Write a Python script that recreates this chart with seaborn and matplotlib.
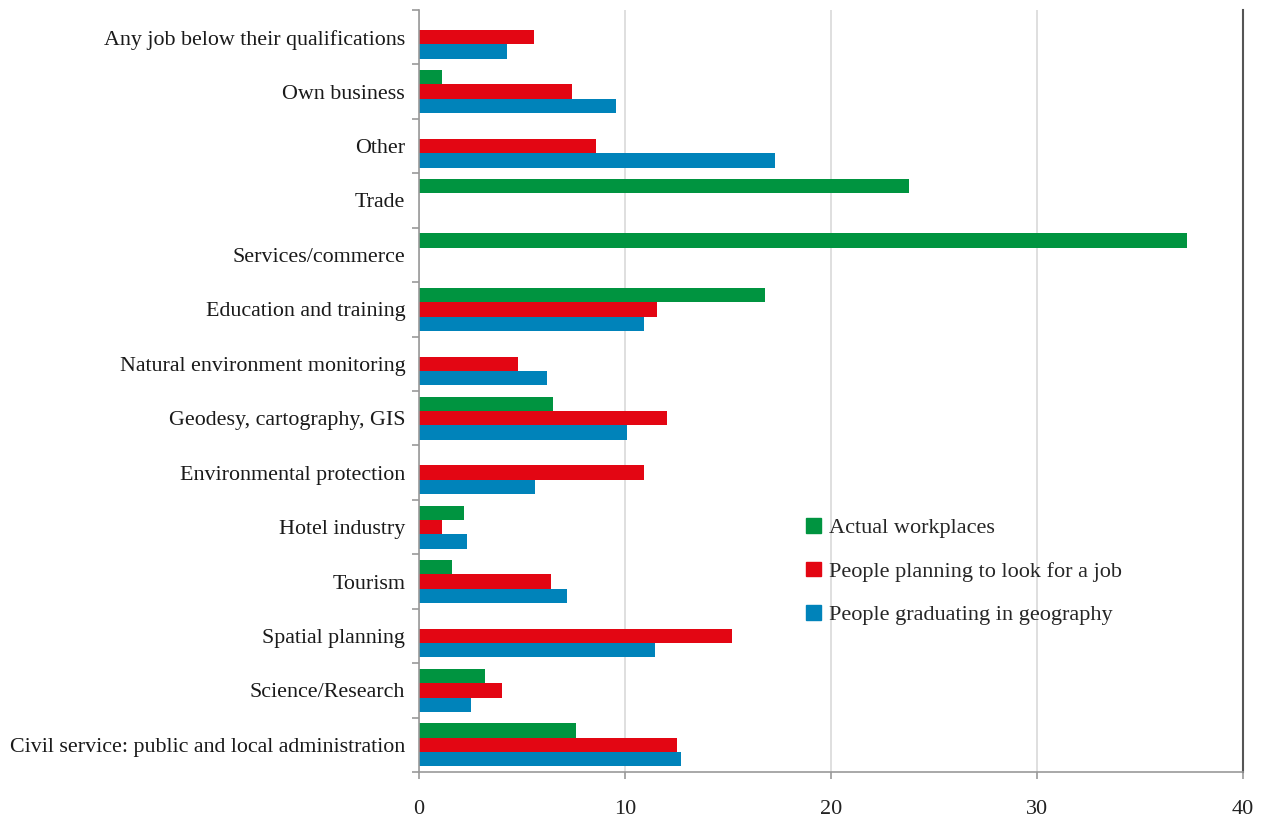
import matplotlib
matplotlib.use("Agg")
import matplotlib.pyplot as plt
import matplotlib.patches as mpatches
import numpy as np
import pandas as pd
import seaborn as sns

categories = [
    "Any job below their qualifications",
    "Own business",
    "Other",
    "Trade",
    "Services/commerce",
    "Education and training",
    "Natural environment monitoring",
    "Geodesy, cartography, GIS",
    "Environmental protection",
    "Hotel industry",
    "Tourism",
    "Spatial planning",
    "Science/Research",
    "Civil service: public and local administration",
]

actual_workplaces = [0, 1.1, 0, 23.8, 37.3, 16.8, 0, 6.5, 0, 2.2, 1.6, 0, 3.2, 7.6]
planning_job = [5.6, 7.45, 8.6, 0, 0, 11.55, 4.8, 12.05, 10.9, 1.1, 6.4, 15.2, 4.05, 12.5]
graduating = [4.25, 9.55, 17.3, 0, 0, 10.9, 6.2, 10.1, 5.65, 2.35, 7.2, 11.45, 2.5, 12.7]

series_names = [
    "Actual workplaces",
    "People planning to look for a job",
    "People graduating in geography",
]
series_colors = ["#009440", "#E30613", "#0083BA"]
x_ticks = [0, 10, 20, 30, 40]

df = pd.DataFrame({
    "category": categories * 3,
    "value": actual_workplaces + planning_job + graduating,
    "series": np.repeat(series_names, len(categories)),
})

sns.set_theme(style="white")
plt.rcParams["font.family"] = ["Liberation Serif", "DejaVu Serif"]

fig = plt.figure(figsize=(12.66, 8.18), dpi=100)
ax = fig.add_axes([0.331, 0.0562, 0.6508, 0.9316])

sns.barplot(
    data=df, y="category", x="value", hue="series",
    hue_order=series_names, order=categories,
    palette=series_colors, orient="h", width=0.79,
    linewidth=0, saturation=1, legend=False, ax=ax,
)

ax.set_xlim(0, 40)
ax.set_ylim(len(categories) - 0.5, -0.5)
ax.set_xticks(x_ticks)
ax.set_xticklabels([str(t) for t in x_ticks], fontsize=16, color="#222222")
ax.set_xlabel("")
ax.set_ylabel("")
ax.grid(axis="x", color="#d9d9d9", linewidth=1.2)
ax.set_axisbelow(True)

# category labels, with separator ticks between groups
ax.set_yticks(range(len(categories)))
ax.set_yticklabels(categories, fontsize=15.8, color="#1a1a1a")
ax.set_yticks(np.arange(-0.5, len(categories), 1.0), minor=True)
ax.tick_params(axis="y", which="major", length=0, pad=10)
ax.tick_params(axis="y", which="minor", left=True, length=5, width=1.2, color="#999999")
ax.tick_params(axis="x", which="major", bottom=True, length=5, width=1.2,
               color="#999999", pad=15)

ax.spines["top"].set_visible(False)
ax.spines["left"].set_color("#999999")
ax.spines["left"].set_linewidth(1.2)
ax.spines["bottom"].set_color("#999999")
ax.spines["bottom"].set_linewidth(1.2)
ax.spines["right"].set_color("#555555")
ax.spines["right"].set_linewidth(1.5)

handles = [mpatches.Patch(color=c, label=n) for c, n in zip(series_colors, series_names)]
ax.legend(
    handles=handles, loc="upper left", bbox_to_anchor=(0.459, 0.345),
    frameon=False, fontsize=16, handlelength=0.65, handleheight=0.65,
    handletextpad=0.4, labelspacing=1.05, borderaxespad=0,
)

fig.savefig("out.png", dpi=100)
